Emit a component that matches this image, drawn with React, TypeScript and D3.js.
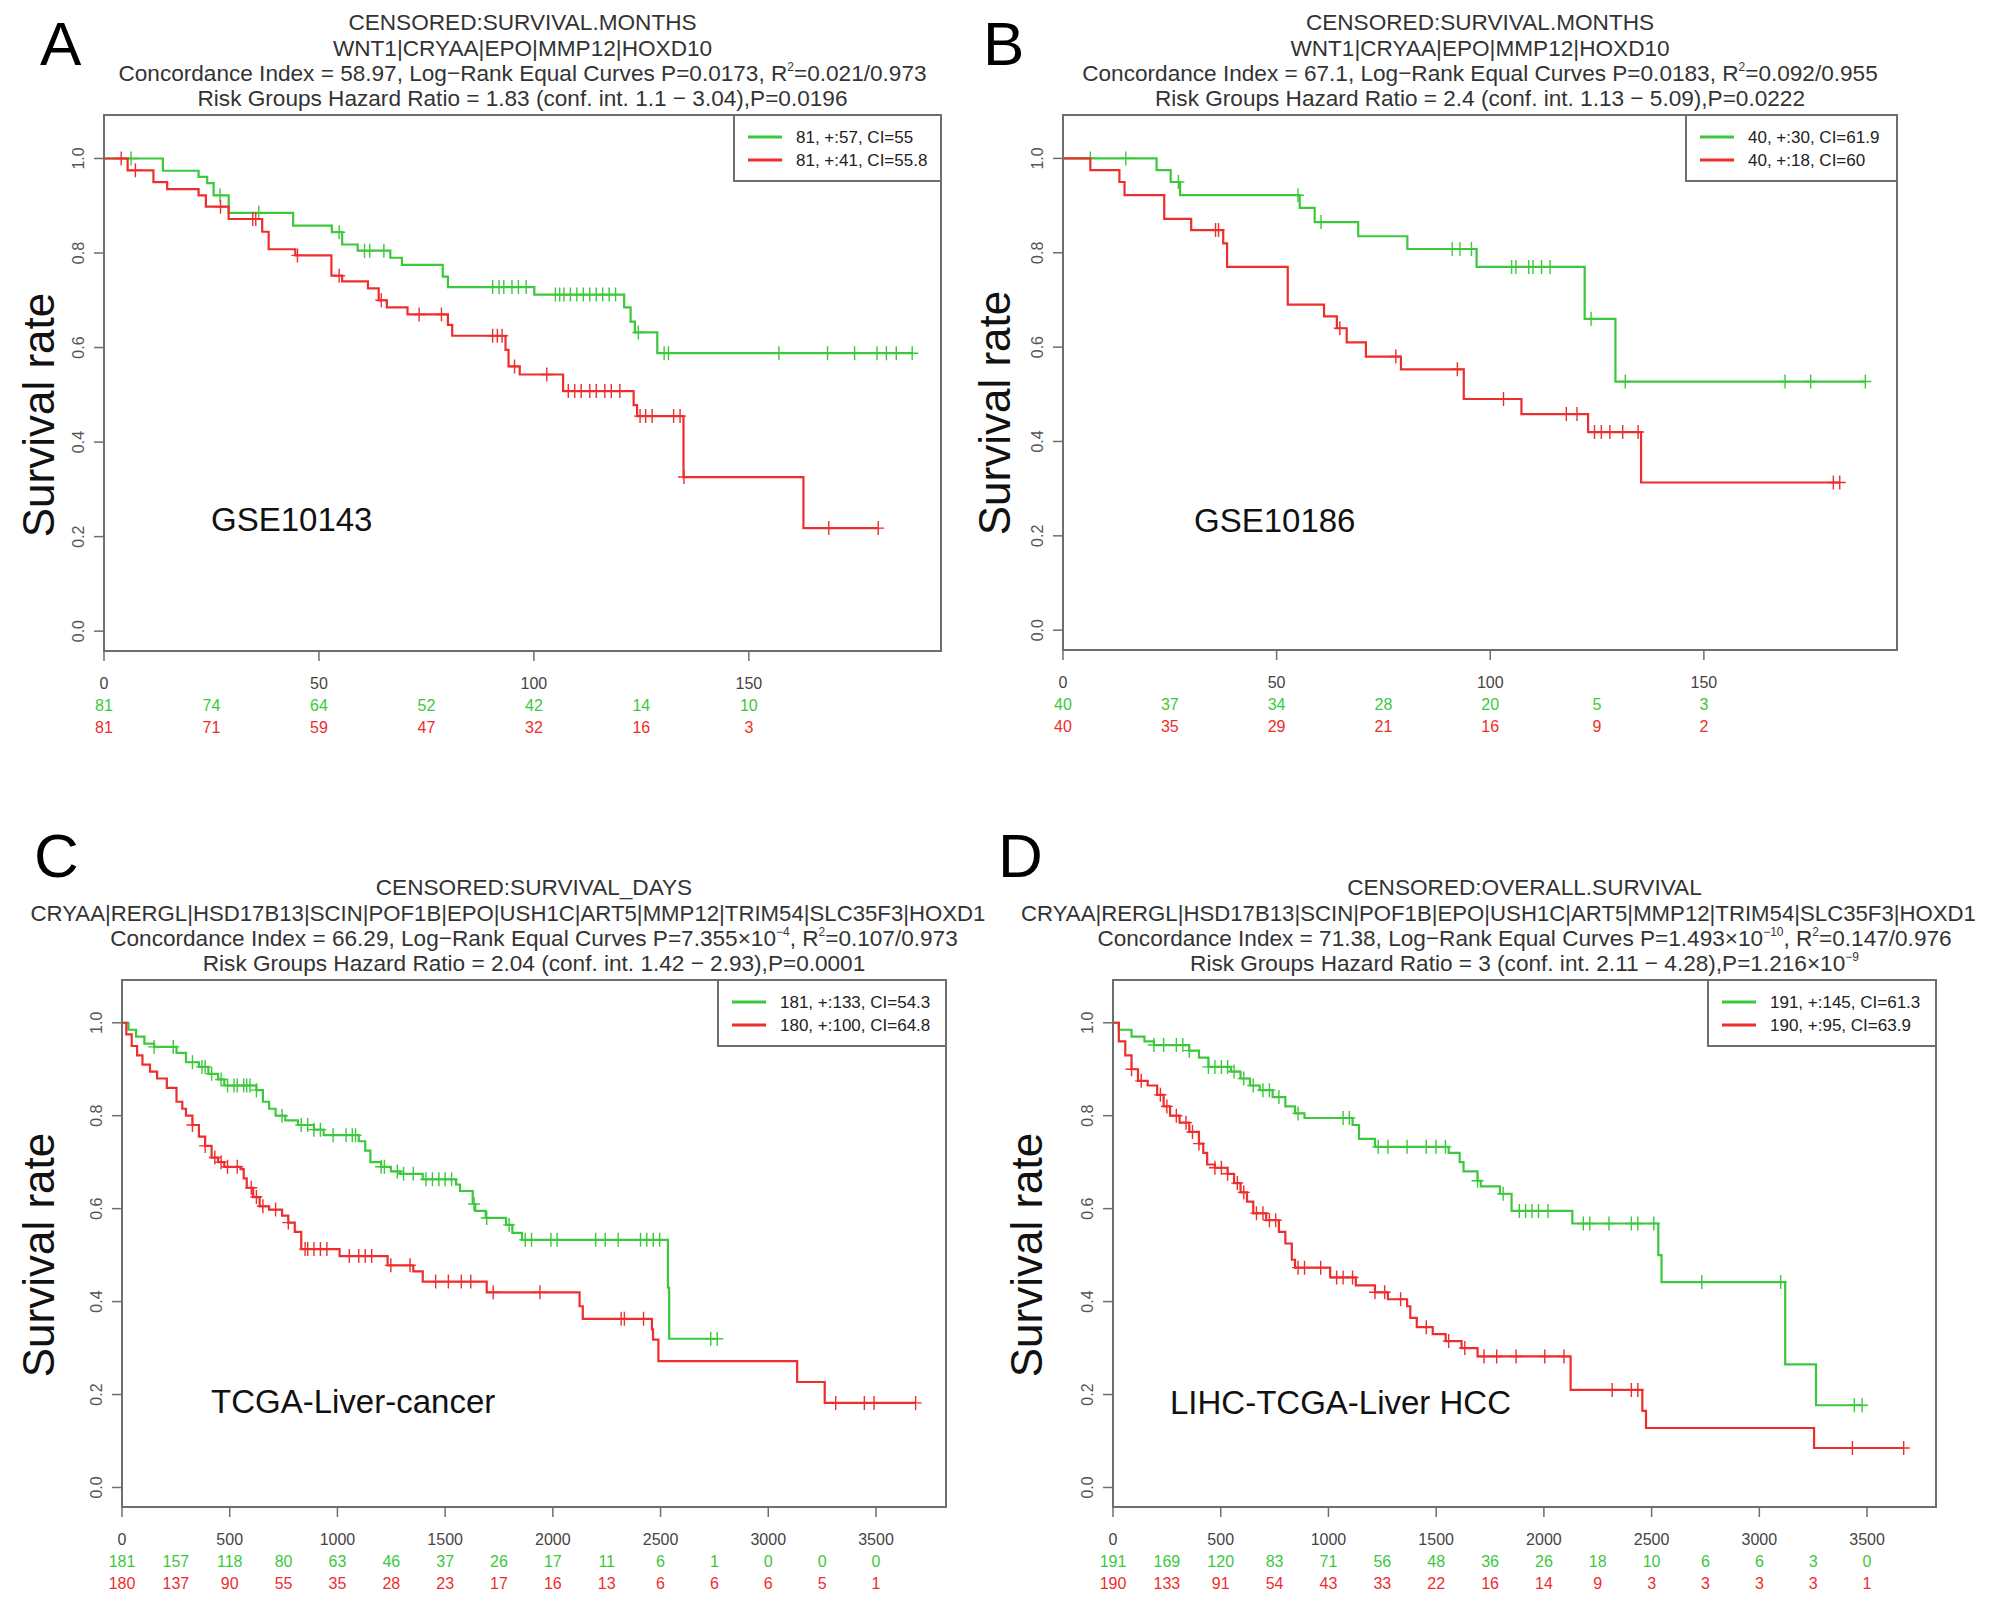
import * as d3 from 'd3';

const GREEN = '#3cc83c';
const RED = '#ee2d2d';
const AXIS = '#6e6e6e';
const FONT = '"Liberation Sans", Arial, Helvetica, sans-serif';

type Step = [number, number];
type Seg = { t: string; sup?: boolean };

// ---------- Panel A: GSE10143 (months)
const A_TITLE: Seg[][] = [
  [{ t: 'CENSORED:SURVIVAL.MONTHS' }],
  [{ t: 'WNT1|CRYAA|EPO|MMP12|HOXD10' }],
  [{ t: 'Concordance Index = 58.97, Log−Rank Equal Curves P=0.0173, R' }, { t: '2', sup: true }, { t: '=0.021/0.973' }],
  [{ t: 'Risk Groups Hazard Ratio = 1.83 (conf. int. 1.1 − 3.04),P=0.0196' }],
];
const A_LEGEND = ['81, +:57, CI=55', '81, +:41, CI=55.8'];
const A_TICKS = [0, 50, 100, 150];
const A_RISK_T = [0, 25, 50, 75, 100, 125, 150];
const A_RISK_GREEN = [81, 74, 64, 52, 42, 14, 10];
const A_RISK_RED = [81, 71, 59, 47, 32, 16, 3];
const A_GREEN: Step[] = [
  [0, 1], [13.7, 0.974], [22, 0.961], [24, 0.948], [25.5, 0.922], [29, 0.885], [44, 0.858], [53, 0.844],
  [55.4, 0.818], [59, 0.805], [66.6, 0.79], [69.3, 0.775], [78.8, 0.75], [80, 0.728], [100.1, 0.712],
  [121, 0.685], [122.5, 0.655], [123.5, 0.632], [128.7, 0.588],
];
const A_GREEN_CENS = [6.3, 27, 36, 54.7, 60.6, 61.8, 65.1, 90.4, 91.9, 93, 94.9, 96.4, 98.2, 105, 106, 107, 108.5,
  110, 111.5, 113, 114.5, 116, 117.5, 119, 124.3, 130.3, 131.3, 157, 168.3, 174.6, 179.8, 182, 184.3, 188];
const A_RED: Step[] = [
  [0, 1], [5.5, 0.975], [11.5, 0.95], [14.7, 0.935], [22, 0.922], [23.7, 0.898], [29, 0.872], [36.8, 0.845],
  [38.3, 0.808], [44.5, 0.795], [52.9, 0.752], [55.4, 0.74], [61.4, 0.725], [63.9, 0.7], [65.8, 0.685],
  [70.6, 0.67], [80, 0.648], [81, 0.625], [93.4, 0.595], [94.1, 0.56], [96.7, 0.543], [106.8, 0.508],
  [123.2, 0.478], [124, 0.455], [134.8, 0.326], [162.7, 0.218],
];
const A_RED_CENS = [4, 7.3, 27.1, 34.6, 35.3, 45, 54.7, 64.5, 73.3, 78.5, 90.4, 91.5, 92.6, 95.5, 103, 108, 109.5,
  111, 113, 114.5, 116.5, 118, 120, 124.7, 126, 127.5, 132.5, 134, 134.9, 168.6, 180.1];

// ---------- Panel B: GSE10186 (months)
const B_TITLE: Seg[][] = [
  [{ t: 'CENSORED:SURVIVAL.MONTHS' }],
  [{ t: 'WNT1|CRYAA|EPO|MMP12|HOXD10' }],
  [{ t: 'Concordance Index = 67.1, Log−Rank Equal Curves P=0.0183, R' }, { t: '2', sup: true }, { t: '=0.092/0.955' }],
  [{ t: 'Risk Groups Hazard Ratio = 2.4 (conf. int. 1.13 − 5.09),P=0.0222' }],
];
const B_LEGEND = ['40, +:30, CI=61.9', '40, +:18, CI=60'];
const B_TICKS = [0, 50, 100, 150];
const B_RISK_T = [0, 25, 50, 75, 100, 125, 150];
const B_RISK_GREEN = [40, 37, 34, 28, 20, 5, 3];
const B_RISK_RED = [40, 35, 29, 21, 16, 9, 2];
const B_GREEN: Step[] = [
  [0, 1], [21.9, 0.975], [25.2, 0.95], [27.4, 0.922], [55.4, 0.895], [58.9, 0.865], [69.1, 0.835],
  [80.6, 0.808], [96.8, 0.77], [122.1, 0.66], [129.3, 0.527],
];
const B_GREEN_CENS = [6.4, 14.7, 27, 55, 60.4, 91.1, 92.9, 95.6, 105, 106, 109, 110, 112, 114, 123.6, 131.6, 169, 175, 187.8];
const B_RED: Step[] = [
  [0, 1], [6.4, 0.975], [13.2, 0.95], [14.4, 0.922], [23.7, 0.872], [30, 0.848], [37.5, 0.82], [38.4, 0.77],
  [52.6, 0.69], [61.1, 0.665], [64.1, 0.64], [66.4, 0.61], [70.9, 0.58], [79.1, 0.553], [93.8, 0.49],
  [107.3, 0.458], [122.9, 0.42], [135.3, 0.313],
];
const B_RED_CENS = [35.7, 36.4, 64.8, 77.9, 92.3, 103.1, 117.8, 120.3, 124.4, 126, 128, 131, 134.6, 180.3, 181.8];

// ---------- Panel C: TCGA liver (days)
const C_TITLE: Seg[][] = [
  [{ t: 'CENSORED:SURVIVAL_DAYS' }],
  [{ t: 'CRYAA|RERGL|HSD17B13|SCIN|POF1B|EPO|USH1C|ART5|MMP12|TRIM54|SLC35F3|HOXD1' }],
  [{ t: 'Concordance Index = 66.29, Log−Rank Equal Curves P=7.355×10' }, { t: '−4', sup: true }, { t: ', R' }, { t: '2', sup: true }, { t: '=0.107/0.973' }],
  [{ t: 'Risk Groups Hazard Ratio = 2.04 (conf. int. 1.42 − 2.93),P=0.0001' }],
];
const C_LEGEND = ['181, +:133, CI=54.3', '180, +:100, CI=64.8'];
const C_TICKS = [0, 500, 1000, 1500, 2000, 2500, 3000, 3500];
const C_RISK_T = [0, 250, 500, 750, 1000, 1250, 1500, 1750, 2000, 2250, 2500, 2750, 3000, 3250, 3500];
const C_RISK_GREEN = [181, 157, 118, 80, 63, 46, 37, 26, 17, 11, 6, 1, 0, 0, 0];
const C_RISK_RED = [180, 137, 90, 55, 35, 28, 23, 17, 16, 13, 6, 6, 6, 5, 1];
const C_GREEN: Step[] = [
  [0, 1], [30, 0.985], [65, 0.97], [104, 0.955], [149, 0.948], [253, 0.935], [297, 0.915], [357, 0.905],
  [401, 0.89], [446, 0.878], [475, 0.865], [624, 0.855], [654, 0.83], [683, 0.815], [713, 0.8], [758, 0.79],
  [817, 0.78], [891, 0.77], [936, 0.758], [1099, 0.745], [1129, 0.725], [1153, 0.7], [1203, 0.69],
  [1248, 0.68], [1292, 0.675], [1396, 0.663], [1551, 0.652], [1569, 0.638], [1628, 0.61], [1640, 0.595],
  [1688, 0.58], [1783, 0.565], [1812, 0.548], [1857, 0.533], [2534, 0.43], [2540, 0.32],
];
const C_GREEN_CENS = [149, 238, 327, 371, 386, 416, 460, 490, 520, 535, 565, 579, 594, 624, 743, 832, 862, 891, 921,
  980, 1040, 1069, 1084, 1203, 1218, 1278, 1307, 1352, 1411, 1441, 1471, 1500, 1530, 1634, 1693, 1797, 1872,
  1901, 1991, 2020, 2199, 2243, 2303, 2407, 2436, 2466, 2496, 2733, 2763];
const C_RED: Step[] = [
  [0, 1], [20, 0.975], [45, 0.95], [70, 0.93], [95, 0.91], [130, 0.895], [163, 0.88], [208, 0.86],
  [253, 0.83], [280, 0.815], [297, 0.8], [327, 0.78], [357, 0.755], [386, 0.735], [416, 0.71], [446, 0.7],
  [475, 0.69], [550, 0.685], [565, 0.665], [579, 0.645], [609, 0.625], [639, 0.605], [683, 0.598],
  [743, 0.585], [772, 0.57], [802, 0.55], [832, 0.513], [1010, 0.498], [1233, 0.478], [1352, 0.465],
  [1396, 0.443], [1693, 0.42], [2124, 0.39], [2139, 0.363], [2460, 0.34], [2465, 0.318], [2490, 0.272],
  [3134, 0.227], [3262, 0.182],
];
const C_RED_CENS = [327, 386, 431, 460, 490, 535, 600, 624, 654, 713, 772, 850, 862, 891, 921, 951, 1055, 1099,
  1129, 1159, 1248, 1337, 1456, 1515, 1575, 1619, 1723, 1940, 2317, 2332, 2421, 3313, 3446, 3491, 3684];

// ---------- Panel D: LIHC TCGA (days)
const D_TITLE: Seg[][] = [
  [{ t: 'CENSORED:OVERALL.SURVIVAL' }],
  [{ t: 'CRYAA|RERGL|HSD17B13|SCIN|POF1B|EPO|USH1C|ART5|MMP12|TRIM54|SLC35F3|HOXD1' }],
  [{ t: 'Concordance Index = 71.38, Log−Rank Equal Curves P=1.493×10' }, { t: '−10', sup: true }, { t: ', R' }, { t: '2', sup: true }, { t: '=0.147/0.976' }],
  [{ t: 'Risk Groups Hazard Ratio = 3 (conf. int. 2.11 − 4.28),P=1.216×10' }, { t: '−9', sup: true }],
];
const D_LEGEND = ['191, +:145, CI=61.3', '190, +:95, CI=63.9'];
const D_TICKS = [0, 500, 1000, 1500, 2000, 2500, 3000, 3500];
const D_RISK_T = [0, 250, 500, 750, 1000, 1250, 1500, 1750, 2000, 2250, 2500, 2750, 3000, 3250, 3500];
const D_RISK_GREEN = [191, 169, 120, 83, 71, 56, 48, 36, 26, 18, 10, 6, 6, 3, 0];
const D_RISK_RED = [190, 133, 91, 54, 43, 33, 22, 16, 14, 9, 3, 3, 3, 3, 1];
const D_GREEN: Step[] = [
  [0, 1], [27, 0.985], [86, 0.97], [146, 0.96], [190, 0.952], [354, 0.94], [399, 0.925], [443, 0.905],
  [547, 0.895], [592, 0.88], [636, 0.865], [681, 0.855], [741, 0.84], [800, 0.82], [845, 0.805], [889, 0.795],
  [1112, 0.78], [1142, 0.75], [1216, 0.733], [1558, 0.72], [1609, 0.7], [1627, 0.68], [1692, 0.66],
  [1707, 0.648], [1796, 0.632], [1850, 0.595], [2132, 0.568], [2531, 0.5], [2546, 0.442], [3120, 0.265],
  [3263, 0.177],
];
const D_GREEN_CENS = [190, 235, 294, 324, 354, 443, 473, 503, 532, 562, 607, 651, 696, 726, 770, 859, 1068, 1097,
  1231, 1276, 1365, 1454, 1499, 1543, 1692, 1811, 1886, 1915, 1945, 1975, 2019, 2183, 2213, 2302, 2406, 2436,
  2510, 2733, 3099, 3441, 3477];
const D_RED: Step[] = [
  [0, 1], [27, 0.96], [57, 0.93], [86, 0.9], [116, 0.875], [161, 0.865], [205, 0.845], [235, 0.82],
  [265, 0.8], [309, 0.785], [354, 0.765], [399, 0.74], [419, 0.72], [437, 0.695], [473, 0.688], [532, 0.675],
  [562, 0.655], [592, 0.635], [622, 0.615], [651, 0.59], [711, 0.575], [770, 0.55], [800, 0.525], [830, 0.49],
  [845, 0.473], [1008, 0.452], [1127, 0.435], [1216, 0.42], [1276, 0.405], [1365, 0.39], [1380, 0.365],
  [1410, 0.345], [1484, 0.33], [1544, 0.315], [1618, 0.3], [1692, 0.282], [2124, 0.21], [2457, 0.165],
  [2474, 0.128], [3254, 0.085],
];
const D_RED_CENS = [86, 131, 220, 250, 294, 339, 369, 399, 473, 503, 532, 577, 607, 666, 696, 726, 755, 859, 889,
  964, 1038, 1068, 1112, 1216, 1261, 1335, 1454, 1558, 1633, 1722, 1781, 1871, 2004, 2093, 2317, 2406, 2436,
  3432, 3670];

const Y_TICKS = [0, 0.2, 0.4, 0.6, 0.8, 1.0];

interface PanelCfg {
  letter: string;
  letterPos: [number, number];
  box: { l: number; t: number; r: number; b: number };
  xMax: number;
  title: Seg[][];
  geneShift: number;
  legend: string[];
  legendW: number;
  ticks: number[];
  riskT: number[];
  riskGreen: number[];
  riskRed: number[];
  green: Step[];
  greenCens: number[];
  red: Step[];
  redCens: number[];
  name: string;
  namePos: [number, number];
  ylabX: number;
  ylabY: number;
}

const PANELS: PanelCfg[] = [
  {
    letter: 'A', letterPos: [40, 65], box: { l: 104, t: 115, r: 941, b: 651 }, xMax: 194.7,
    title: A_TITLE, geneShift: 0, legend: A_LEGEND, legendW: 207, ticks: A_TICKS,
    riskT: A_RISK_T, riskGreen: A_RISK_GREEN, riskRed: A_RISK_RED,
    green: A_GREEN, greenCens: A_GREEN_CENS, red: A_RED, redCens: A_RED_CENS,
    name: 'GSE10143', namePos: [211, 531], ylabX: 54, ylabY: 415,
  },
  {
    letter: 'B', letterPos: [983, 65], box: { l: 1063, t: 115, r: 1897, b: 650 }, xMax: 195.2,
    title: B_TITLE, geneShift: 0, legend: B_LEGEND, legendW: 211, ticks: B_TICKS,
    riskT: B_RISK_T, riskGreen: B_RISK_GREEN, riskRed: B_RISK_RED,
    green: B_GREEN, greenCens: B_GREEN_CENS, red: B_RED, redCens: B_RED_CENS,
    name: 'GSE10186', namePos: [1194, 532], ylabX: 1010, ylabY: 413,
  },
  {
    letter: 'C', letterPos: [34, 877], box: { l: 122, t: 980, r: 946, b: 1507 }, xMax: 3825,
    title: C_TITLE, geneShift: -26, legend: C_LEGEND, legendW: 228, ticks: C_TICKS,
    riskT: C_RISK_T, riskGreen: C_RISK_GREEN, riskRed: C_RISK_RED,
    green: C_GREEN, greenCens: C_GREEN_CENS, red: C_RED, redCens: C_RED_CENS,
    name: 'TCGA-Liver-cancer', namePos: [211, 1413], ylabX: 54, ylabY: 1255,
  },
  {
    letter: 'D', letterPos: [998, 877], box: { l: 1113, t: 980, r: 1936, b: 1507 }, xMax: 3820,
    title: D_TITLE, geneShift: -26, legend: D_LEGEND, legendW: 228, ticks: D_TICKS,
    riskT: D_RISK_T, riskGreen: D_RISK_GREEN, riskRed: D_RISK_RED,
    green: D_GREEN, greenCens: D_GREEN_CENS, red: D_RED, redCens: D_RED_CENS,
    name: 'LIHC-TCGA-Liver HCC', namePos: [1170, 1414], ylabX: 1042, ylabY: 1255,
  },
];

function survAt(steps: Step[], t: number) {
  let s = 1;
  for (const [tt, ss] of steps) if (tt <= t) s = ss;
  return s;
}

function KMCurve({ steps, cens, x, y, color }: {
  steps: Step[]; cens: number[]; x: d3.ScaleLinear<number, number>; y: d3.ScaleLinear<number, number>; color: string;
}) {
  const last = steps[steps.length - 1];
  const end = Math.max(d3.max(cens) ?? 0, last[0]);
  const pts: Step[] = [...steps, [end, last[1]]];
  const line = d3.line<Step>().x(d => x(d[0])).y(d => y(d[1])).curve(d3.curveStepAfter);
  return (
    <g>
      <path d={line(pts) ?? ''} fill="none" stroke={color} strokeWidth={2.2} />
      {cens.map((t, i) => {
        const cx = x(t);
        const cy = y(survAt(steps, t));
        return <path key={i} d={`M${cx},${cy - 7}V${cy + 7}M${cx - 6},${cy}H${cx + 6}`} stroke={color} strokeWidth={1.4} />;
      })}
    </g>
  );
}

function TitleLine({ segs, x, y, size }: { segs: Seg[]; x: number; y: number; size: number }) {
  return (
    <text x={x} y={y} textAnchor="middle" fontSize={size} fill="#333" fontFamily={FONT}>
      {segs.map((s, i) => {
        const prevSup = i > 0 && segs[i - 1].sup;
        if (s.sup) return <tspan key={i} fontSize={12} dy={-10}>{s.t}</tspan>;
        return <tspan key={i} dy={prevSup ? 10 : 0}>{s.t}</tspan>;
      })}
    </text>
  );
}

function Panel({ p }: { p: PanelCfg }) {
  const { box } = p;
  const x = d3.scaleLinear().domain([0, p.xMax]).range([box.l, box.r]);
  const y = d3.scaleLinear().domain([-0.042, 1.092]).range([box.b, box.t]);
  const cx = (box.l + box.r) / 2;
  const titleY = [box.t - 85, box.t - 59, box.t - 34, box.t - 9];
  const lg = { l: box.r - p.legendW, t: box.t };
  const fmtY = d3.format('.1f');
  return (
    <g fontFamily={FONT}>
      <text x={p.letterPos[0]} y={p.letterPos[1]} fontSize={62} fill="#000">{p.letter}</text>
      {p.title.map((segs, i) => (
        <TitleLine key={i} segs={segs} x={cx + (i === 1 ? p.geneShift : 0)} y={titleY[i]}
          size={i === 1 && p.geneShift !== 0 ? 22.2 : 22.6} />
      ))}

      <KMCurve steps={p.green} cens={p.greenCens} x={x} y={y} color={GREEN} />
      <KMCurve steps={p.red} cens={p.redCens} x={x} y={y} color={RED} />

      <rect x={box.l} y={box.t} width={box.r - box.l} height={box.b - box.t} fill="none" stroke={AXIS} strokeWidth={2} />

      {/* y axis */}
      {Y_TICKS.map(v => (
        <g key={v}>
          <line x1={box.l - 10} x2={box.l} y1={y(v)} y2={y(v)} stroke={AXIS} strokeWidth={1.5} />
          <text transform={`translate(${box.l - 20},${y(v)}) rotate(-90)`} textAnchor="middle" fontSize={16} fill="#555">{fmtY(v)}</text>
        </g>
      ))}
      <text transform={`translate(${p.ylabX},${p.ylabY}) rotate(-90)`} textAnchor="middle" fontSize={44} fill="#111">Survival rate</text>

      {/* x axis */}
      {p.ticks.map(v => (
        <g key={v}>
          <line x1={x(v)} x2={x(v)} y1={box.b} y2={box.b + 10} stroke={AXIS} strokeWidth={1.5} />
          <text x={x(v)} y={box.b + 38} textAnchor="middle" fontSize={16} fill="#444">{v}</text>
        </g>
      ))}
      {p.riskT.map((t, i) => (
        <g key={t}>
          <text x={x(t)} y={box.b + 60} textAnchor="middle" fontSize={16} fill={GREEN}>{p.riskGreen[i]}</text>
          <text x={x(t)} y={box.b + 82} textAnchor="middle" fontSize={16} fill={RED}>{p.riskRed[i]}</text>
        </g>
      ))}

      {/* legend */}
      <rect x={lg.l} y={lg.t} width={p.legendW} height={66} fill="white" stroke={AXIS} strokeWidth={2} />
      {p.legend.map((s, i) => (
        <g key={s}>
          <line x1={lg.l + 14} x2={lg.l + 48} y1={lg.t + 22 + i * 23} y2={lg.t + 22 + i * 23} stroke={i === 0 ? GREEN : RED} strokeWidth={3} />
          <text x={lg.l + 62} y={lg.t + 28 + i * 23} fontSize={17} fill="#222">{s}</text>
        </g>
      ))}

      <text x={p.namePos[0]} y={p.namePos[1]} fontSize={33} fill="#111">{p.name}</text>
    </g>
  );
}

export default function App() {
  return (
    <div style={{ position: 'absolute', left: 0, top: 0 }}>
      <svg width={2008} height={1620} viewBox="0 0 2008 1620" style={{ display: 'block', background: 'white' }}>
        <rect width={2008} height={1620} fill="white" />
        {PANELS.map(p => <Panel key={p.letter} p={p} />)}
      </svg>
    </div>
  );
}
